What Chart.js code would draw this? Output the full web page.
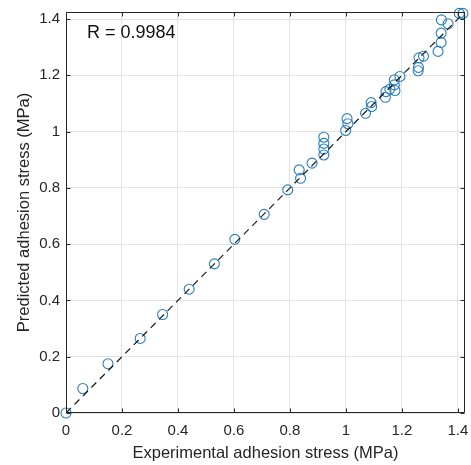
<!DOCTYPE html>
<html><head><meta charset="utf-8">
<script src="https://cdn.jsdelivr.net/npm/chart.js@4"></script>
<style>html,body{margin:0;padding:0;background:#fff}</style>
</head><body>
<canvas id="c" width="471" height="465"></canvas>
<script>
const experimental = [0, 0.06, 0.15, 0.265, 0.345, 0.44, 0.53, 0.603, 0.708, 0.792, 0.838, 0.833, 0.879,
  0.921, 0.921, 0.921, 0.921, 0.999, 1.007, 1.004, 1.07, 1.092, 1.09, 1.141, 1.143, 1.157, 1.175, 1.173,
  1.173, 1.193, 1.258, 1.259, 1.261, 1.277, 1.329, 1.34, 1.34, 1.341, 1.365, 1.405, 1.418];
const predicted = [0, 0.087, 0.175, 0.265, 0.35, 0.44, 0.53, 0.617, 0.706, 0.793, 0.834, 0.864, 0.888,
  0.917, 0.938, 0.958, 0.98, 1.004, 1.028, 1.046, 1.065, 1.089, 1.103, 1.122, 1.142, 1.151, 1.146, 1.166,
  1.184, 1.196, 1.216, 1.228, 1.262, 1.268, 1.285, 1.317, 1.35, 1.397, 1.383, 1.42, 1.42];
const refLine = [0, 1.425];
const axisRange = [0, 1.425];
const tickStep = 0.2;
const rText = 'R = 0.9984';
const xTitle = 'Experimental adhesion stress (MPa)';
const yTitle = 'Predicted adhesion stress (MPa)';

const FONT = "'Liberation Sans', Arial, sans-serif";
const AX = '#262626';

const framePlugin = {
  id: 'frame',
  afterDatasetsDraw(chart) {
    const {ctx, chartArea: a, scales} = chart;
    ctx.save();
    ctx.strokeStyle = AX;
    ctx.lineWidth = 1;
    ctx.beginPath();
    const L = Math.round(a.left) + 0.5, R = Math.round(a.right) - 0.5;
    const T = Math.round(a.top) + 0.5, B = Math.round(a.bottom) - 0.5;
    ctx.rect(L, T, R - L, B - T);
    const tl = 4;
    scales.x.ticks.forEach(t => {
      const px = Math.round(scales.x.getPixelForValue(t.value)) + 0.5;
      ctx.moveTo(px, B); ctx.lineTo(px, B - tl);
      ctx.moveTo(px, T); ctx.lineTo(px, T + tl);
    });
    scales.y.ticks.forEach(t => {
      const py = Math.round(scales.y.getPixelForValue(t.value)) + 0.5;
      ctx.moveTo(L, py); ctx.lineTo(L + tl, py);
      ctx.moveTo(R, py); ctx.lineTo(R - tl, py);
    });
    ctx.stroke();
    ctx.fillStyle = '#111';
    ctx.font = '18px ' + FONT;
    ctx.textBaseline = 'middle';
    ctx.textAlign = 'left';
    ctx.fillText(rText, a.left + 21, a.top + 21);
    ctx.restore();
  }
};

const fmt = v => String(Math.round(v * 10) / 10);

new Chart(document.getElementById('c'), {
  type: 'scatter',
  data: {
    datasets: [
      {
        data: refLine.map(v => ({x: v, y: v})),
        showLine: true,
        borderColor: '#1a1a1a',
        borderWidth: 1.2,
        borderDash: [7, 5],
        pointRadius: 0,
        order: 1
      },
      {
        data: experimental.map((v, i) => ({x: v, y: predicted[i]})),
        pointStyle: 'circle',
        pointRadius: 5,
        backgroundColor: 'rgba(0,0,0,0)',
        borderColor: '#2a7fbc',
        borderWidth: 1.1,
        clip: false,
        order: 2
      }
    ]
  },
  options: {
    responsive: false,
    animation: false,
    devicePixelRatio: 1,
    layout: {padding: {top: 12, right: 3, left: 0, bottom: 0}},
    plugins: {legend: {display: false}, tooltip: {enabled: false}},
    scales: {
      x: {
        type: 'linear', min: axisRange[0], max: axisRange[1],
        grid: {color: '#e3e3e3', drawTicks: false, lineWidth: 1},
        border: {display: false},
        ticks: {stepSize: tickStep, includeBounds: false, padding: 9, color: AX,
          font: {family: FONT, size: 15}, callback: fmt, maxRotation: 0},
        title: {display: true, text: xTitle, color: AX, font: {family: FONT, size: 16.5},
          padding: {top: 0, bottom: 2}},
        afterFit(s) { s.height = 52; s.paddingLeft = 0; s.paddingRight = 0; }
      },
      y: {
        type: 'linear', min: axisRange[0], max: axisRange[1],
        grid: {color: '#e3e3e3', drawTicks: false, lineWidth: 1},
        border: {display: false},
        ticks: {stepSize: tickStep, includeBounds: false, padding: 6, color: AX,
          font: {family: FONT, size: 15}, callback: fmt},
        title: {display: true, text: yTitle, color: AX, font: {family: FONT, size: 16.5},
          padding: {top: 15, bottom: 0}},
        afterFit(s) { s.width = 66; s.paddingTop = 0; s.paddingBottom = 0; }
      }
    }
  },
  plugins: [framePlugin]
});
</script>
</body></html>
